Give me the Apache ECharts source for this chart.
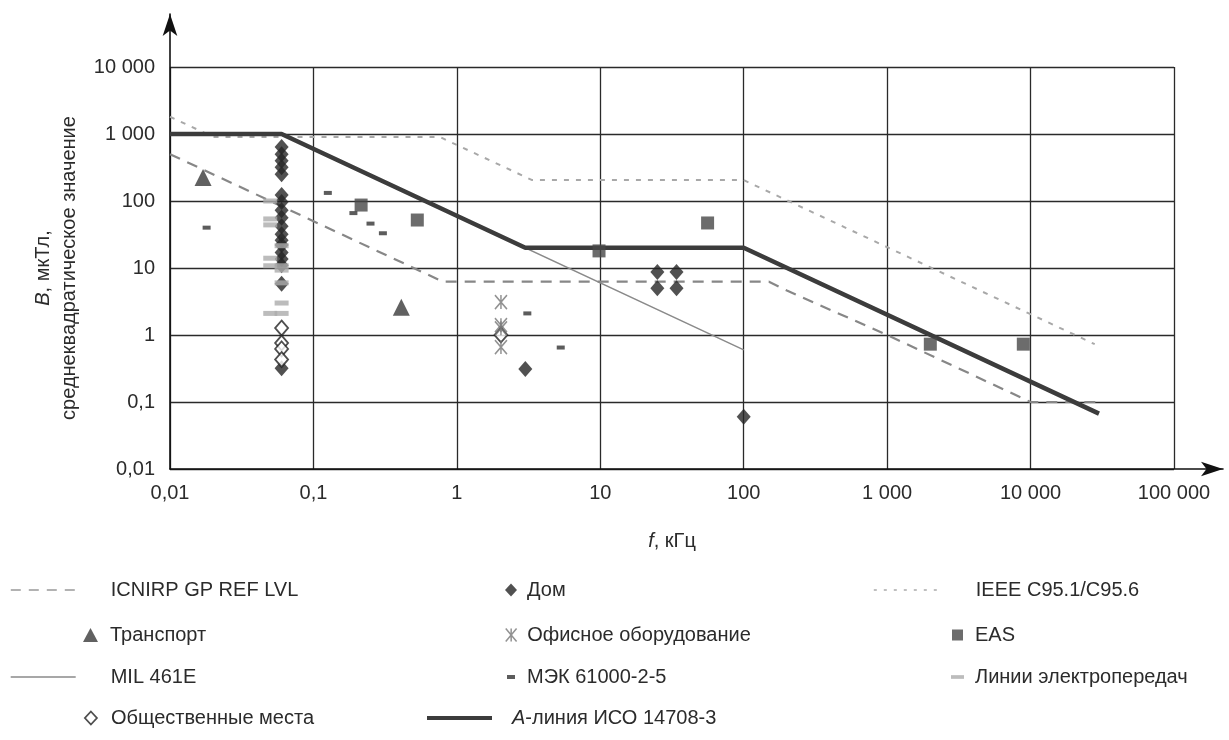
<!DOCTYPE html>
<html><head><meta charset="utf-8">
<script src="https://cdn.jsdelivr.net/npm/echarts@6/dist/echarts.min.js"></script>
<style>html,body{margin:0;padding:0;background:#fff}#c{width:1229px;height:740px}</style>
</head><body><div id="c"></div>
<script>
// ---- tick labels ----
const xTickLabels = ['0,01','0,1','1','10','100','1 000','10 000','100 000'];
const yTickLabels = ['0,01','0,1','1','10','100','1 000','10 000'];

// ---- limit lines [f kHz, B µT] ----
const icnirpLine = [[0.01,500],[0.8,6.25],[150,6.25],[200,4.6],[1000,1.0],[10000,0.1],[30000,0.1]];
const ieeeLine   = [[0.01,1810],[0.02,904],[0.759,904],[3,229],[3.35,205],[100,205],[28000,0.73]];
const milLine    = [[0.03,1000],[0.06,1000],[100,0.6]];
const isoALine   = [[0.01,1000],[0.06,1000],[3,20],[100,20],[30000,0.067]];

// ---- measured sources [f kHz, B µT] ----
const homePoints = [[0.06,640],[0.06,500],[0.06,400],[0.06,320],[0.06,250],[0.06,123],[0.06,97],[0.06,73],
  [0.06,56],[0.06,42],[0.06,32],[0.06,26],[0.06,22],[0.06,17],[0.06,13.6],[0.06,11],[0.06,5.8],[0.06,0.32],
  [3,0.31],[25,8.7],[25,5.0],[34,8.7],[34,5.0],[100,0.06]];
const transportPoints = [[0.017,225],[0.41,2.6]];
const publicPoints = [[0.06,1.27],[0.06,0.76],[0.06,0.62],[0.06,0.43],[2.03,1.0]];
const officePoints = [[2.03,3.1],[2.03,1.4],[2.03,1.26],[2.03,0.66]];
const iecPoints = [[0.018,40],[0.126,132],[0.19,66],[0.25,46],[0.305,33],[3.1,2.1],[5.3,0.65]];
const easPoints = [[0.215,87],[0.53,52],[9.8,18],[56,47],[2000,0.73],[8900,0.73]];
const powerLinePoints = [[0.05,100],[0.05,54],[0.05,44],[0.06,21.5],[0.05,14],[0.05,10.8],[0.06,10.8],[0.06,9.3],
  [0.06,6.0],[0.06,3.0],[0.05,2.1],[0.06,2.1]];

// ---- series names ----
const names = {
  icnirp: 'ICNIRP GP REF LVL', transport: 'Транспорт', mil: 'MIL 461E', pub: 'Общественные места',
  home: 'Дом', office: 'Офисное оборудование', iec: 'МЭК 61000-2-5', iso: 'А-линия ИСО 14708-3',
  ieee: 'IEEE C95.1/C95.6', eas: 'EAS', power: 'Линии электропередач'
};

const FONT = 'Liberation Sans, Arial, sans-serif';
const TXT = '#2b2b2b';
const asteriskPath = 'path://M0,0L10,12M10,0L0,12M5,0L5,12';
const iecPath = 'path://M0,0H8V4H0Z';
const powerPath = 'path://M0,0H14V4H0Z';

const chart = echarts.init(document.getElementById('c'), null, {renderer: 'canvas'});

function lineSeries(name, data, color, width, type) {
  return {name, type: 'line', data, xAxisIndex: 0, yAxisIndex: 0, symbol: 'none', showSymbol: false,
    lineStyle: {color, width, type}, itemStyle: {color}, z: 2, silent: true, animation: false};
}
function scatterSeries(name, data, symbol, size, itemStyle, z) {
  return {name, type: 'scatter', data, xAxisIndex: 0, yAxisIndex: 0, symbol, symbolSize: size,
    itemStyle, z: z || 3, silent: true, animation: false};
}

const series = [
  lineSeries(names.ieee, ieeeLine, '#a8a8a8', 2, [5, 7]),
  lineSeries(names.icnirp, icnirpLine, '#878787', 2.2, [11, 8]),
  lineSeries(names.mil, milLine, '#8a8a8a', 1.5, 'solid'),
  lineSeries(names.iso, isoALine, '#3c3c3c', 4.5, 'solid'),
  scatterSeries(names.transport, transportPoints, 'triangle', 17, {color: '#3a3a3a'}),
  scatterSeries(names.eas, easPoints, 'rect', 13, {color: '#474747'}),
  scatterSeries(names.iec, iecPoints, iecPath, [8, 4], {color: '#333'}),
  scatterSeries(names.home, homePoints, 'diamond', [14, 16], {color: '#262626'}),
  scatterSeries(names.pub, publicPoints, 'diamond', [13, 15], {color: '#fff', borderColor: '#222', borderWidth: 1.8}),
  scatterSeries(names.office, officePoints, asteriskPath, [12, 14], {color: '#777', borderColor: '#777', borderWidth: 1.6}),
  scatterSeries(names.power, powerLinePoints, powerPath, [14, 5], {color: '#ababab'}, 4)
];

// legend placement: [name, iconLeft, iconW, iconH, textX, rowCenterY, extra]
const ROW = [591, 636, 678, 719];
const noSym = {color: 'rgba(0,0,0,0)', borderWidth: 0, opacity: 0};
const legendSpecs = [
  [names.icnirp, 10, 65, 10, 110, ROW[0], {lineStyle: {width: 1.6, type: [10, 8], color: '#999'}, itemStyle: noSym}],
  [names.transport, 83, 15, 14, 110, ROW[1], {}],
  [names.mil, 10, 65, 10, 110, ROW[2], {lineStyle: {width: 1.4, color: '#8a8a8a'}, itemStyle: noSym}],
  [names.pub, 84, 12, 13, 110, ROW[3], {itemStyle: {borderWidth: 1.8, borderColor: '#222', color: '#fff'}}],
  [names.home, 505, 12, 13, 527, ROW[0], {}],
  [names.office, 505, 12, 13, 527, ROW[1], {itemStyle: {borderWidth: 1.5, borderColor: '#777'}}],
  [names.iec, 507, 8, 5, 527, ROW[2], {}],
  [names.iso, 425, 65, 10, 510, ROW[3], {lineStyle: {width: 4, color: '#3c3c3c'}, itemStyle: noSym}],
  [names.ieee, 873, 67, 10, 975, ROW[0], {lineStyle: {width: 1.6, type: [3, 7], color: '#aaa'}, itemStyle: noSym}],
  [names.eas, 952, 11, 11, 975, ROW[1], {}],
  [names.power, 951, 13, 4, 975, ROW[2], {}]
];
const legends = legendSpecs.map(s => {
  const [name, left, w, h, textX, cy, extra] = s;
  const pad = textX - (left + w + 5);
  const lg = {
    show: true, left, top: cy - 11, orient: 'horizontal', padding: 0,
    itemWidth: w, itemHeight: h, selectedMode: false,
    data: [Object.assign({name}, extra)],
    textStyle: {fontFamily: FONT, fontSize: 20, color: TXT, padding: [0, 0, 0, pad],
      rich: {i: {fontStyle: 'italic', fontFamily: FONT, fontSize: 20, color: TXT}}}
  };
  if (name === names.iso) lg.formatter = () => '{i|А}-линия ИСО 14708-3';
  return lg;
});

const option = {
  backgroundColor: '#fff',
  animation: false,
  grid: [
    {left: 170, right: 55, top: 67, bottom: 271, containLabel: false},
    {left: 170, right: 6, top: 14, bottom: 271, containLabel: false}
  ],
  xAxis: [
    {type: 'log', logBase: 10, min: 0.01, max: 100000, splitNumber: 7, gridIndex: 0,
      axisLine: {show: false}, axisTick: {show: false},
      splitLine: {show: true, lineStyle: {color: '#2a2a2a', width: 1.3}},
      axisLabel: {fontFamily: FONT, fontSize: 20, color: TXT, margin: 14,
        formatter: v => xTickLabels[Math.round(Math.log10(v)) + 2]},
      name: '{i|f}, кГц', nameLocation: 'middle', nameGap: 62,
      nameTextStyle: {fontFamily: FONT, fontSize: 20, color: TXT,
        rich: {i: {fontStyle: 'italic', fontFamily: FONT, fontSize: 20, color: TXT}}}},
    {type: 'value', min: 0, max: 1, gridIndex: 1, axisLabel: {show: false}, axisTick: {show: false},
      splitLine: {show: false},
      axisLine: {show: true, onZero: false, symbol: ['none', 'arrow'], symbolSize: [11, 22],
        lineStyle: {color: '#111', width: 1.6}}}
  ],
  yAxis: [
    {type: 'log', logBase: 10, min: 0.01, max: 10000, splitNumber: 6, gridIndex: 0,
      axisLine: {show: false}, axisTick: {show: false},
      splitLine: {show: true, lineStyle: {color: '#2a2a2a', width: 1.3}},
      axisLabel: {fontFamily: FONT, fontSize: 20, color: TXT, margin: 15,
        formatter: v => yTickLabels[Math.round(Math.log10(v)) + 2]},
      name: '{i|B}, мкТл,\nсреднеквадратическое значение', nameLocation: 'middle', nameGap: 86, nameRotate: 90,
      nameTextStyle: {fontFamily: FONT, fontSize: 20, color: TXT, lineHeight: 26,
        rich: {i: {fontStyle: 'italic', fontFamily: FONT, fontSize: 20, color: TXT, lineHeight: 26}}}},
    {type: 'value', min: 0, max: 1, gridIndex: 1, axisLabel: {show: false}, axisTick: {show: false},
      splitLine: {show: false},
      axisLine: {show: true, onZero: false, symbol: ['none', 'arrow'], symbolSize: [11, 22],
        lineStyle: {color: '#111', width: 1.6}}}
  ],
  legend: legends,
  series
};
chart.setOption(option);
</script>
</body></html>
